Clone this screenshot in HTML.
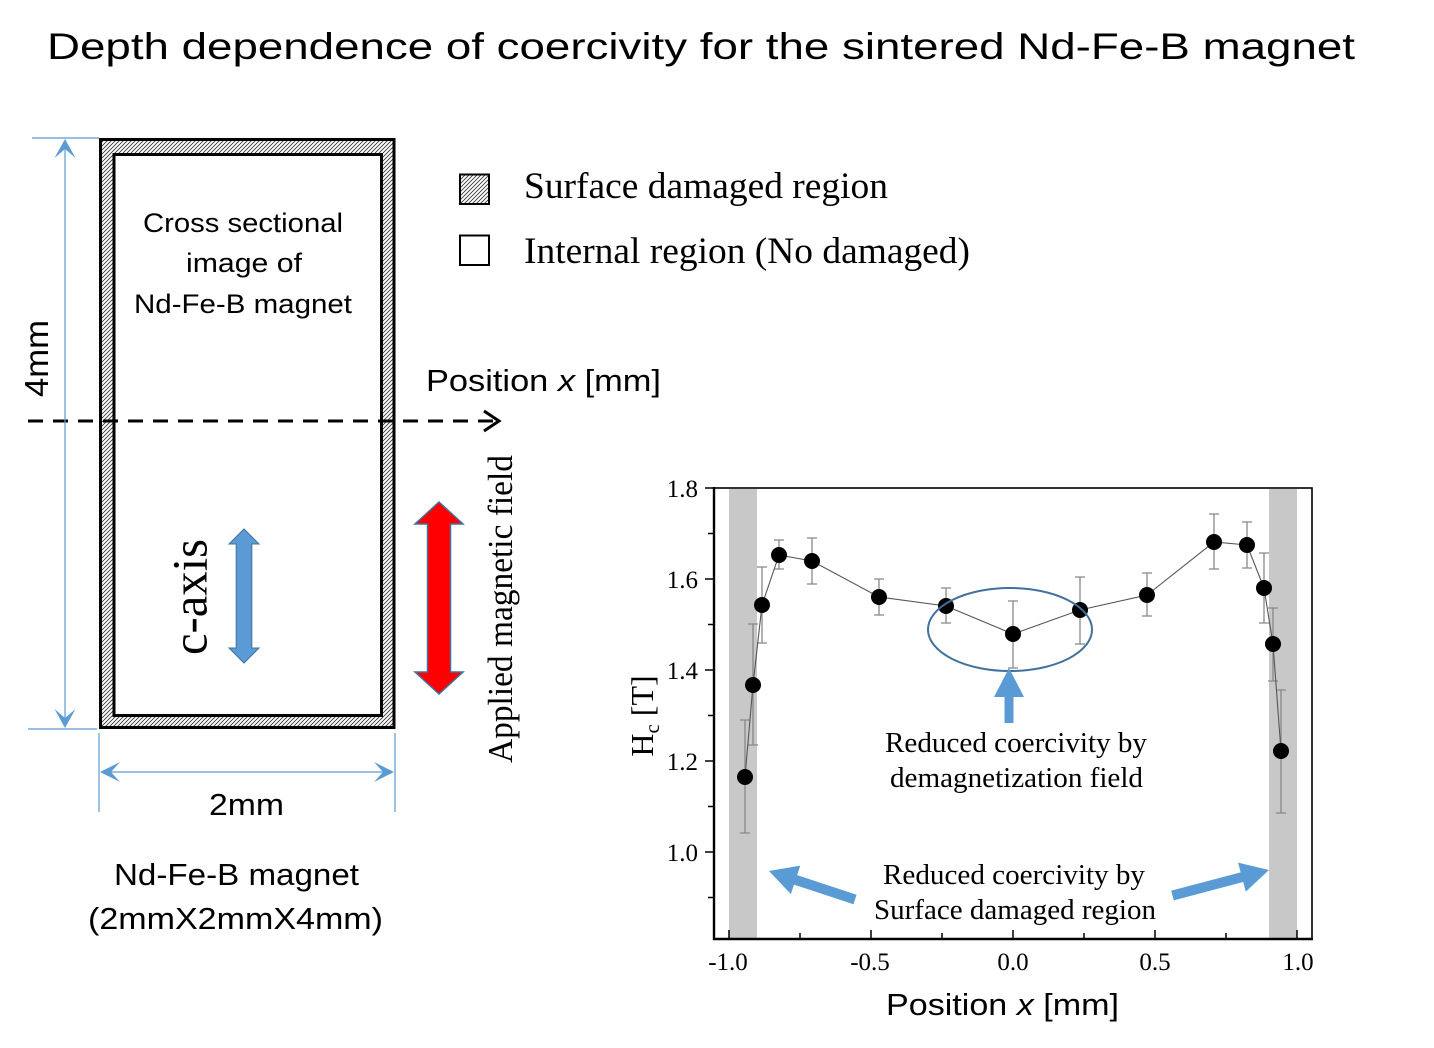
<!DOCTYPE html>
<html>
<head>
<meta charset="utf-8">
<style>
  html, body { margin: 0; padding: 0; background: #ffffff; }
  body { width: 1434px; height: 1048px; overflow: hidden; }
  svg { display: block; }
  .sans { font-family: "Liberation Sans", Arial, sans-serif; }
  .serif { font-family: "Liberation Serif", "Times New Roman", serif; }
</style>
</head>
<body>
<svg width="1434" height="1048" viewBox="0 0 1434 1048" xmlns="http://www.w3.org/2000/svg">
  <defs>
    <pattern id="hatch" patternUnits="userSpaceOnUse" width="4" height="4">
      <rect width="4" height="4" fill="#ffffff"/>
      <path d="M-1,1 l2,-2 M0,4 l4,-4 M3,5 l2,-2" stroke="#333" stroke-width="0.85"/>
    </pattern>
  </defs>

  <!-- Title -->
  <text class="sans" x="47" y="59" font-size="37" textLength="1308" lengthAdjust="spacingAndGlyphs" fill="#000">Depth dependence of coercivity for the sintered Nd-Fe-B magnet</text>

  <!-- Magnet box -->
  <rect x="100.5" y="139.5" width="293.5" height="588" fill="url(#hatch)" stroke="#000" stroke-width="3"/>
  <rect x="114" y="154.5" width="267.5" height="561" fill="#ffffff" stroke="#000" stroke-width="3"/>

  <!-- Cross sectional text -->
  <text class="sans" x="143" y="232" font-size="26.5" textLength="200" lengthAdjust="spacingAndGlyphs">Cross sectional</text>
  <text class="sans" x="186" y="272" font-size="26.5" textLength="116" lengthAdjust="spacingAndGlyphs">image of</text>
  <text class="sans" x="134" y="313" font-size="26.5" textLength="218" lengthAdjust="spacingAndGlyphs">Nd-Fe-B magnet</text>

  <!-- Dashed position line -->
  <line x1="28" y1="421" x2="495" y2="421" stroke="#000" stroke-width="3" stroke-dasharray="15 10"/>
  <polyline points="484,411 499,421 484,431" fill="none" stroke="#000" stroke-width="3"/>
  <text class="sans" x="426" y="391" font-size="31" textLength="235" lengthAdjust="spacingAndGlyphs">Position <tspan font-style="italic">x</tspan> [mm]</text>

  <!-- Vertical dimension (4mm) -->
  <line x1="32" y1="138" x2="99" y2="138" stroke="#5B9BD5" stroke-width="1.2"/>
  <line x1="28" y1="729" x2="97" y2="729" stroke="#5B9BD5" stroke-width="1.2"/>
  <line x1="65" y1="145" x2="65" y2="722" stroke="#5B9BD5" stroke-width="1.2"/>
  <path d="M65,139 L75.5,158 L65,149 L54.5,158 Z" fill="#5B9BD5"/>
  <path d="M65,728 L75.5,709 L65,718 L54.5,709 Z" fill="#5B9BD5"/>
  <text class="sans" transform="translate(48,358.5) rotate(-90)" text-anchor="middle" font-size="33" textLength="77" lengthAdjust="spacingAndGlyphs">4mm</text>

  <!-- Horizontal dimension (2mm) -->
  <line x1="99" y1="733" x2="99" y2="812" stroke="#5B9BD5" stroke-width="1.2"/>
  <line x1="395" y1="733" x2="395" y2="812" stroke="#5B9BD5" stroke-width="1.2"/>
  <line x1="106" y1="772" x2="388" y2="772" stroke="#5B9BD5" stroke-width="1.2"/>
  <path d="M100,772 L120,762 L111,772 L120,782 Z" fill="#5B9BD5"/>
  <path d="M394,772 L374,762 L383,772 L374,782 Z" fill="#5B9BD5"/>
  <text class="sans" x="209" y="815" font-size="31" textLength="75" lengthAdjust="spacingAndGlyphs">2mm</text>

  <!-- Magnet labels -->
  <text class="sans" x="114" y="885" font-size="31" textLength="245" lengthAdjust="spacingAndGlyphs">Nd-Fe-B magnet</text>
  <text class="sans" x="88" y="929" font-size="31" textLength="295" lengthAdjust="spacingAndGlyphs">(2mmX2mmX4mm)</text>

  <!-- c-axis arrow and label -->
  <path d="M244,529 L259,544 L251.8,544 L251.8,648 L259,648 L244,663 L229,648 L236.2,648 L236.2,544 L229,544 Z" fill="#5B9BD5" stroke="#41719C" stroke-width="1"/>
  <text class="serif" transform="translate(206.5,597) rotate(-90)" text-anchor="middle" font-size="50" textLength="116" lengthAdjust="spacingAndGlyphs">c-axis</text>

  <!-- Applied magnetic field arrow and label -->
  <path d="M439,502 L463,524 L450.5,524 L450.5,672 L463,672 L439,694 L415,672 L427.5,672 L427.5,524 L415,524 Z" fill="#FF0000" stroke="#41719C" stroke-width="1.5"/>
  <text class="serif" transform="translate(512,609) rotate(-90)" text-anchor="middle" font-size="35" textLength="308" lengthAdjust="spacingAndGlyphs">Applied magnetic field</text>

  <!-- Legend -->
  <rect x="460" y="174.5" width="29" height="29.5" fill="url(#hatch)" stroke="#000" stroke-width="2"/>
  <rect x="460" y="235.5" width="29" height="29.5" fill="#ffffff" stroke="#000" stroke-width="2"/>
  <text class="serif" x="524" y="198" font-size="37" textLength="364" lengthAdjust="spacingAndGlyphs">Surface damaged region</text>
  <text class="serif" x="524" y="263" font-size="37" textLength="446" lengthAdjust="spacingAndGlyphs">Internal region (No damaged)</text>

  <!-- Chart -->
  <rect x="729" y="489" width="28" height="449" fill="#C8C8C8"/>
  <rect x="1269" y="489" width="28" height="449" fill="#C8C8C8"/>
  <rect x="714" y="488" width="598" height="451" fill="none" stroke="#000" stroke-width="1.6"/>
  <line x1="714" y1="487" x2="714" y2="940" stroke="#000" stroke-width="2.4"/>
  <line x1="713" y1="939" x2="1313" y2="939" stroke="#000" stroke-width="2.4"/>

  <!-- Y ticks -->
  <g stroke="#000" stroke-width="1.5">
    <line x1="705" y1="488" x2="714" y2="488"/>
    <line x1="705" y1="579" x2="714" y2="579"/>
    <line x1="705" y1="670" x2="714" y2="670"/>
    <line x1="705" y1="761" x2="714" y2="761"/>
    <line x1="705" y1="852" x2="714" y2="852"/>
    <line x1="708" y1="533.5" x2="714" y2="533.5"/>
    <line x1="708" y1="624.5" x2="714" y2="624.5"/>
    <line x1="708" y1="715.5" x2="714" y2="715.5"/>
    <line x1="708" y1="806.5" x2="714" y2="806.5"/>
    <line x1="708" y1="897.5" x2="714" y2="897.5"/>
  </g>
  <!-- X ticks -->
  <g stroke="#000" stroke-width="1.5">
    <line x1="729" y1="939" x2="729" y2="930"/>
    <line x1="871" y1="939" x2="871" y2="930"/>
    <line x1="1013" y1="939" x2="1013" y2="930"/>
    <line x1="1155" y1="939" x2="1155" y2="930"/>
    <line x1="1297" y1="939" x2="1297" y2="930"/>
    <line x1="800" y1="939" x2="800" y2="933"/>
    <line x1="942" y1="939" x2="942" y2="933"/>
    <line x1="1084" y1="939" x2="1084" y2="933"/>
    <line x1="1226" y1="939" x2="1226" y2="933"/>
  </g>

  <!-- Y tick labels -->
  <g class="serif" font-size="25" text-anchor="end">
    <text x="698" y="497">1.8</text>
    <text x="698" y="588">1.6</text>
    <text x="698" y="679">1.4</text>
    <text x="698" y="770">1.2</text>
    <text x="698" y="861">1.0</text>
  </g>
  <!-- X tick labels -->
  <g class="serif" font-size="25" text-anchor="middle">
    <text x="728" y="970">-1.0</text>
    <text x="870" y="970">-0.5</text>
    <text x="1013" y="970">0.0</text>
    <text x="1155" y="970">0.5</text>
    <text x="1298" y="970">1.0</text>
  </g>

  <!-- Axis titles -->
  <text class="serif" transform="translate(653,716) rotate(-90)" text-anchor="middle" font-size="32">H<tspan font-size="21" dy="6">c</tspan><tspan dy="-6"> [T]</tspan></text>
  <text class="sans" x="886" y="1015" font-size="31" textLength="233" lengthAdjust="spacingAndGlyphs">Position <tspan font-style="italic">x</tspan> [mm]</text>

  <!-- Error bars -->
  <g stroke="#888" stroke-width="1.3" fill="none">
    <path d="M745,720 V833 M740,720 H750 M740,833 H750"/>
    <path d="M753,624 V745 M748,624 H758 M748,745 H758"/>
    <path d="M762,567 V643 M757,567 H767 M757,643 H767"/>
    <path d="M779,540 V569 M774,540 H784 M774,569 H784"/>
    <path d="M812,538 V584 M807,538 H817 M807,584 H817"/>
    <path d="M879,579 V615 M874,579 H884 M874,615 H884"/>
    <path d="M946,588 V623 M941,588 H951 M941,623 H951"/>
    <path d="M1013,601 V668 M1008,601 H1018 M1008,668 H1018"/>
    <path d="M1080,577 V644 M1075,577 H1085 M1075,644 H1085"/>
    <path d="M1147,573 V616 M1142,573 H1152 M1142,616 H1152"/>
    <path d="M1214,514 V569 M1209,514 H1219 M1209,569 H1219"/>
    <path d="M1247,522 V568 M1242,522 H1252 M1242,568 H1252"/>
    <path d="M1264,553 V623 M1259,553 H1269 M1259,623 H1269"/>
    <path d="M1273,608 V681 M1268,608 H1278 M1268,681 H1278"/>
    <path d="M1281,690 V813 M1276,690 H1286 M1276,813 H1286"/>
  </g>

  <!-- Data line -->
  <polyline points="745,777 753,685 762,605 779,555 812,561 879,597 946,606 1013,634 1080,610 1147,595 1214,542 1247,545 1264,588 1273,644 1281,751" fill="none" stroke="#555" stroke-width="1.1"/>

  <!-- Data points -->
  <g fill="#000">
    <circle cx="745" cy="777" r="8"/>
    <circle cx="753" cy="685" r="8"/>
    <circle cx="762" cy="605" r="8"/>
    <circle cx="779" cy="555" r="8"/>
    <circle cx="812" cy="561" r="8"/>
    <circle cx="879" cy="597" r="8"/>
    <circle cx="946" cy="606" r="8"/>
    <circle cx="1013" cy="634" r="8"/>
    <circle cx="1080" cy="610" r="8"/>
    <circle cx="1147" cy="595" r="8"/>
    <circle cx="1214" cy="542" r="8"/>
    <circle cx="1247" cy="545" r="8"/>
    <circle cx="1264" cy="588" r="8"/>
    <circle cx="1273" cy="644" r="8"/>
    <circle cx="1281" cy="751" r="8"/>
  </g>

  <!-- Ellipse highlight -->
  <ellipse cx="1010" cy="629.5" rx="82" ry="41.5" fill="none" stroke="#41719C" stroke-width="2"/>

  <!-- Up arrow -->
  <path d="M1004.5,723 L1004.5,697 L994,697 L1009,668 L1024,697 L1013.5,697 L1013.5,723 Z" fill="#5B9BD5"/>

  <!-- Left & right block arrows -->
  <g transform="translate(855,899.5) rotate(-161.7)">
    <path d="M0,-5 L62.6,-5 L62.6,-15 L90.6,0 L62.6,15 L62.6,5 L0,5 Z" fill="#5B9BD5"/>
  </g>
  <g transform="translate(1172.5,895.5) rotate(-14.8)">
    <path d="M0,-5 L71.8,-5 L71.8,-15 L99.8,0 L71.8,15 L71.8,5 L0,5 Z" fill="#5B9BD5"/>
  </g>

  <!-- Chart annotations -->
  <text class="serif" x="885" y="752" font-size="29" textLength="262" lengthAdjust="spacingAndGlyphs">Reduced coercivity by</text>
  <text class="serif" x="890" y="787" font-size="29" textLength="253" lengthAdjust="spacingAndGlyphs">demagnetization field</text>
  <text class="serif" x="883" y="884" font-size="29" textLength="262" lengthAdjust="spacingAndGlyphs">Reduced coercivity by</text>
  <text class="serif" x="874" y="919" font-size="29" textLength="282" lengthAdjust="spacingAndGlyphs">Surface damaged region</text>
</svg>
</body>
</html>
